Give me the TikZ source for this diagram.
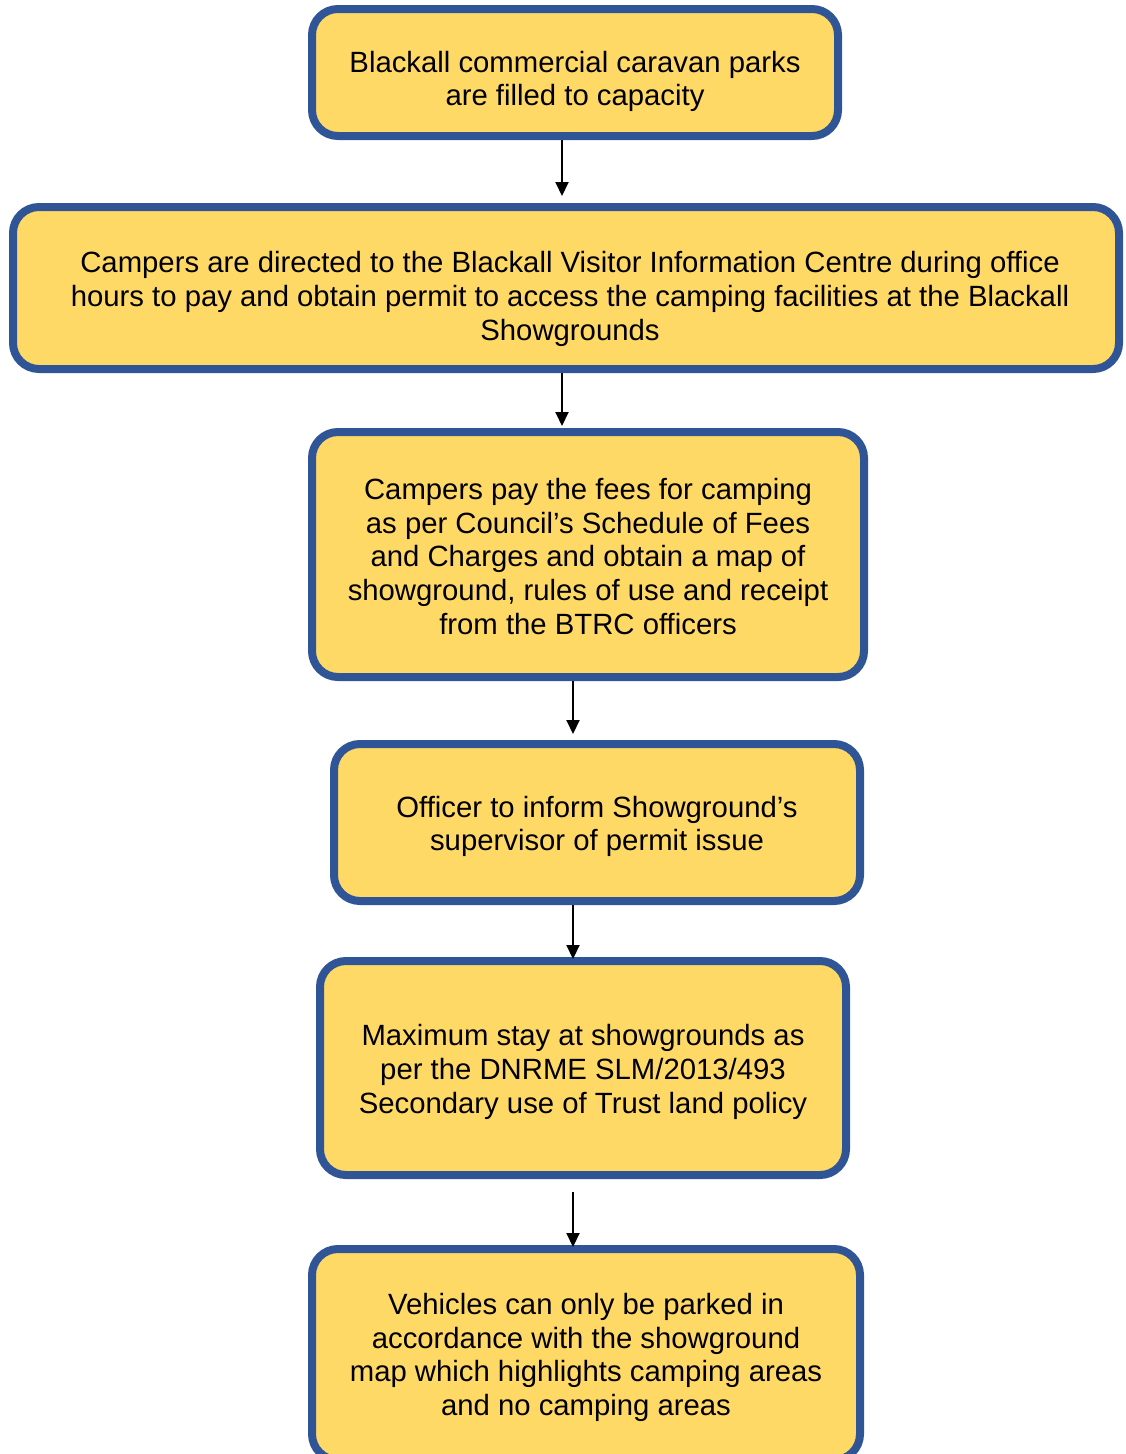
\documentclass[tikz,border=0pt]{standalone}
\usepackage{fontspec}
\setmainfont{Liberation Sans}
\usetikzlibrary{arrows.meta}
\definecolor{boxfill}{HTML}{FFD966}
\definecolor{boxline}{HTML}{2F5597}
\begin{document}
\begin{tikzpicture}[x=1pt,y=-1pt,
  flowbox/.style={draw=boxline, fill=boxfill, line width=8pt, rounded corners=26pt, inner sep=0pt},
  flowtext/.style={align=center, inner sep=0pt, font=\fontsize{29.3pt}{33.8pt}\selectfont},
  flowarrow/.style={line width=2pt, -{Triangle[length=14pt,width=13pt]}}]
\useasboundingbox (0,0) rectangle (1125,1454);
\node[flowbox, minimum width=526pt, minimum height=127pt] (b1) at (575,72.5) {};
\node[flowtext] (t1) at ([yshift=-9pt]b1.center)
  {Blackall commercial caravan parks\\are filled to capacity};
\node[flowbox, minimum width=1106pt, minimum height=162pt] (b2) at (566,288) {};
\node[flowtext] (t2) at ([yshift=-11pt,xshift=4pt]b2.center)
  {Campers are directed to the Blackall Visitor Information Centre during office\\hours to pay and obtain permit to access the camping facilities at the Blackall\\Showgrounds};
\node[flowbox, minimum width=552pt, minimum height=245pt] (b3) at (588,554.5) {};
\node[flowtext] (t3) at ([yshift=-2pt]b3.center)
  {Campers pay the fees for camping\\as per Council’s Schedule of Fees\\and Charges and obtain a map of\\showground, rules of use and receipt\\from the BTRC officers};
\node[flowbox, minimum width=526pt, minimum height=157pt] (b4) at (597,822.5) {};
\node[flowtext] (t4) at ([yshift=-4pt]b4.center)
  {Officer to inform Showground’s\\supervisor of permit issue};
\node[flowbox, minimum width=526pt, minimum height=214pt] (b5) at (583,1068) {};
\node[flowtext] (t5) at ([yshift=-4pt]b5.center)
  {Maximum stay at showgrounds as\\per the DNRME SLM/2013/493\\Secondary use of Trust land policy};
\node[flowbox, minimum width=548pt, minimum height=211pt] (b6) at (586,1354.5) {};
\node[flowtext] (t6) at ([yshift=-3pt]b6.center)
  {Vehicles can only be parked in\\accordance with the showground\\map which highlights camping areas\\and no camping areas};
\coordinate (a1s) at (562,140); \coordinate (a1e) at (562,196);
\coordinate (a2s) at (562,373); \coordinate (a2e) at (562,426);
\coordinate (a3s) at (573,681); \coordinate (a3e) at (573,734);
\coordinate (a4s) at (573,905); \coordinate (a4e) at (573,959);
\coordinate (a5s) at (573,1192); \coordinate (a5e) at (573,1247);
\draw[flowarrow] (a1s) -- (a1e);
\draw[flowarrow] (a2s) -- (a2e);
\draw[flowarrow] (a3s) -- (a3e);
\draw[flowarrow] (a4s) -- (a4e);
\draw[flowarrow] (a5s) -- (a5e);
\end{tikzpicture}
\end{document}
